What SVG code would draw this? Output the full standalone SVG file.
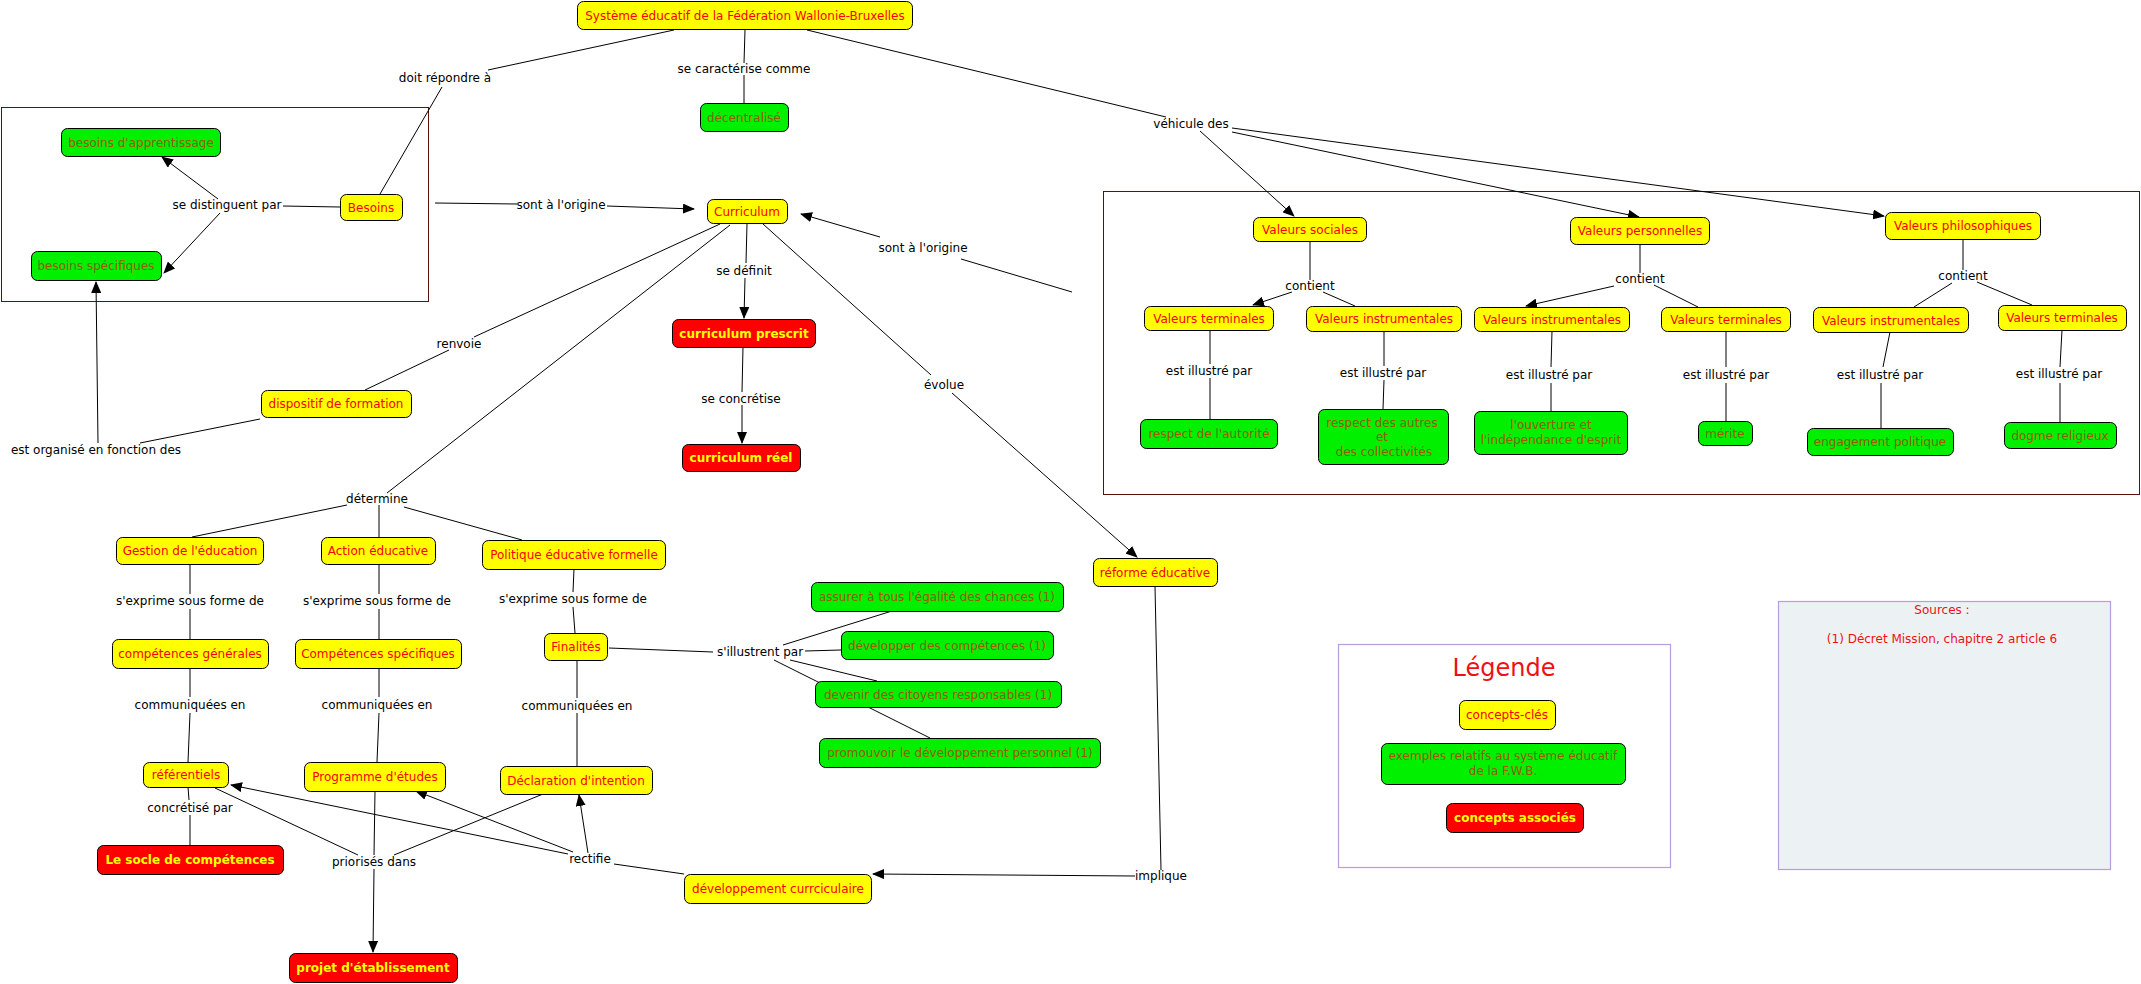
<svg xmlns="http://www.w3.org/2000/svg" width="2141" height="984" viewBox="0 0 2141 984">
<style>
text{font-family:"DejaVu Sans","Verdana",sans-serif;font-size:12px;text-anchor:middle}
.y rect{fill:#ffff00;stroke:#000;stroke-width:1}
.y text{fill:#ff0000}
.g rect{fill:#00f000;stroke:#000;stroke-width:1}
.g text{fill:#9a5a00}
.r rect{fill:#ff0000;stroke:#000;stroke-width:1}
.r text{fill:#ffff00;font-weight:bold}
.lbl{fill:#000}
#links line{stroke:#000;stroke-width:1;fill:none}
#links line.a{marker-end:url(#arr)}
.frame{fill:none;stroke:#5c1010;stroke-width:1}
.box{stroke:#b89be0;stroke-width:1.2}
</style>
<defs>
<marker id="arr" markerUnits="userSpaceOnUse" markerWidth="12" markerHeight="10" refX="11" refY="5" orient="auto">
<path d="M0,0 L12,5 L0,10 z" fill="#000"/>
</marker>
</defs>
<rect x="0" y="0" width="2141" height="984" fill="#fff"/>
<rect class="frame" x="1.5" y="107.5" width="427" height="194"/>
<rect class="frame" x="1103.5" y="191.5" width="1036" height="303"/>
<rect class="box" x="1338.5" y="644.5" width="332" height="223" fill="#fff"/>
<rect class="box" x="1778.5" y="601.5" width="332" height="268" fill="#ecf2f4"/>
<g id="links">
<line x1="674" y1="30" x2="488" y2="70"/><line x1="442" y1="87" x2="380" y2="194"/>
<line x1="745" y1="30" x2="744" y2="63"/><line x1="744" y1="75" x2="744" y2="103"/>
<line x1="807" y1="30" x2="1166" y2="117"/>
<line class="a" x1="1200" y1="131" x2="1294" y2="216"/>
<line class="a" x1="1232" y1="132" x2="1639" y2="217"/>
<line class="a" x1="1232" y1="128" x2="1884" y2="216"/>
<line x1="340" y1="207" x2="283" y2="206"/>
<line class="a" x1="218" y1="199" x2="162" y2="157"/>
<line class="a" x1="220" y1="213" x2="164" y2="273"/>
<line x1="435" y1="203" x2="517" y2="204"/><line class="a" x1="607" y1="206" x2="694" y2="209"/>
<line x1="1072" y1="292" x2="961" y2="259"/><line class="a" x1="880" y1="237" x2="801" y2="214"/>
<line x1="747" y1="224" x2="746" y2="263"/><line class="a" x1="745" y1="278" x2="744" y2="318"/>
<line x1="743" y1="347" x2="742" y2="392"/><line class="a" x1="742" y1="405" x2="742" y2="443"/>
<line x1="720" y1="224" x2="474" y2="337"/><line x1="449" y1="350" x2="365" y2="390"/>
<line x1="260" y1="419" x2="140" y2="443"/><line class="a" x1="98" y1="443" x2="96" y2="282"/>
<line x1="730" y1="225" x2="387" y2="493"/>
<line x1="763" y1="224" x2="931" y2="375"/><line class="a" x1="952" y1="393" x2="1137" y2="557"/>
<line x1="347" y1="505" x2="192" y2="537"/><line x1="379" y1="505" x2="379" y2="537"/><line x1="404" y1="507" x2="522" y2="540"/>
<line x1="190" y1="564" x2="190" y2="594"/><line x1="190" y1="609" x2="190" y2="639"/>
<line x1="379" y1="564" x2="379" y2="594"/><line x1="379" y1="609" x2="379" y2="639"/>
<line x1="574" y1="569" x2="573" y2="592"/><line x1="573" y1="607" x2="575" y2="633"/>
<line x1="190" y1="669" x2="190" y2="697"/><line x1="190" y1="713" x2="188" y2="762"/>
<line x1="379" y1="669" x2="379" y2="697"/><line x1="379" y1="713" x2="377" y2="762"/>
<line x1="577" y1="660" x2="577" y2="698"/><line x1="577" y1="713" x2="577" y2="766"/>
<line x1="609" y1="648" x2="713" y2="652"/>
<line x1="783" y1="645" x2="892" y2="611"/>
<line x1="805" y1="651" x2="841" y2="650"/>
<line x1="790" y1="660" x2="877" y2="681"/>
<line x1="774" y1="660" x2="930" y2="738"/>
<line x1="188" y1="787" x2="189" y2="800"/><line x1="190" y1="815" x2="190" y2="845"/>
<line x1="215" y1="788" x2="358" y2="855"/>
<line x1="375" y1="791" x2="374" y2="855"/>
<line x1="543" y1="794" x2="394" y2="855"/>
<line class="a" x1="374" y1="869" x2="373" y2="952"/>
<line x1="684" y1="874" x2="614" y2="864"/>
<line class="a" x1="568" y1="854" x2="231" y2="785"/>
<line class="a" x1="573" y1="852" x2="416" y2="791"/>
<line class="a" x1="588" y1="853" x2="579" y2="795"/>
<line x1="1155" y1="586" x2="1161" y2="870"/>
<line class="a" x1="1135" y1="876" x2="873" y2="874"/>
<line x1="1310" y1="241" x2="1310" y2="280"/><line class="a" x1="1292" y1="292" x2="1253" y2="305"/><line x1="1323" y1="292" x2="1355" y2="306"/>
<line x1="1640" y1="245" x2="1640" y2="273"/><line class="a" x1="1614" y1="286" x2="1526" y2="306"/><line x1="1654" y1="285" x2="1698" y2="307"/>
<line x1="1963" y1="239" x2="1963" y2="270"/><line x1="1952" y1="283" x2="1914" y2="307"/><line x1="1977" y1="282" x2="2032" y2="305"/>
<line x1="1210" y1="330" x2="1210" y2="364"/><line x1="1210" y1="378" x2="1210" y2="419"/>
<line x1="1384" y1="331" x2="1384" y2="366"/><line x1="1384" y1="380" x2="1383" y2="409"/>
<line x1="1552" y1="331" x2="1551" y2="367"/><line x1="1551" y1="383" x2="1551" y2="411"/>
<line x1="1726" y1="331" x2="1726" y2="367"/><line x1="1726" y1="383" x2="1726" y2="421"/>
<line x1="1890" y1="332" x2="1883" y2="367"/><line x1="1881" y1="383" x2="1881" y2="428"/>
<line x1="2062" y1="330" x2="2060" y2="367"/><line x1="2060" y1="383" x2="2060" y2="422"/>
</g>
<g id="labels">
<text class="lbl" x="445" y="82">doit répondre à</text>
<text class="lbl" x="744" y="73">se caractérise comme</text>
<text class="lbl" x="1191" y="128">véhicule des</text>
<text class="lbl" x="227" y="209">se distinguent par</text>
<text class="lbl" x="561" y="209">sont à l'origine</text>
<text class="lbl" x="923" y="252">sont à l'origine</text>
<text class="lbl" x="744" y="275">se définit</text>
<text class="lbl" x="741" y="403">se concrétise</text>
<text class="lbl" x="459" y="348">renvoie</text>
<text class="lbl" x="96" y="454">est organisé en fonction des</text>
<text class="lbl" x="944" y="389">évolue</text>
<text class="lbl" x="1310" y="290">contient</text>
<text class="lbl" x="1640" y="283">contient</text>
<text class="lbl" x="1963" y="280">contient</text>
<text class="lbl" x="1209" y="375">est illustré par</text>
<text class="lbl" x="1383" y="377">est illustré par</text>
<text class="lbl" x="1549" y="379">est illustré par</text>
<text class="lbl" x="1726" y="379">est illustré par</text>
<text class="lbl" x="1880" y="379">est illustré par</text>
<text class="lbl" x="2059" y="378">est illustré par</text>
<text class="lbl" x="377" y="503">détermine</text>
<text class="lbl" x="190" y="605">s'exprime sous forme de</text>
<text class="lbl" x="377" y="605">s'exprime sous forme de</text>
<text class="lbl" x="573" y="603">s'exprime sous forme de</text>
<text class="lbl" x="190" y="709">communiquées en</text>
<text class="lbl" x="377" y="709">communiquées en</text>
<text class="lbl" x="577" y="710">communiquées en</text>
<text class="lbl" x="760" y="656">s'illustrent par</text>
<text class="lbl" x="190" y="812">concrétisé par</text>
<text class="lbl" x="374" y="866">priorisés dans</text>
<text class="lbl" x="590" y="863">rectifie</text>
<text class="lbl" x="1161" y="880">implique</text>
</g>
<g id="n-title" class="y"><rect x="577.5" y="1.5" width="335" height="28" rx="6"/><text x="745" y="20">Système éducatif de la Fédération Wallonie-Bruxelles</text></g>
<g id="n-decentralise" class="g"><rect x="700.5" y="103.5" width="88" height="28" rx="6"/><text x="744" y="122">décentralisé</text></g>
<g id="n-besoins-app" class="g"><rect x="61.5" y="128.5" width="159" height="28" rx="6"/><text x="141" y="147">besoins d'apprentissage</text></g>
<g id="n-besoins-spec" class="g"><rect x="31.5" y="251.5" width="130" height="29" rx="6"/><text x="96" y="270">besoins spécifiques</text></g>
<g id="n-besoins" class="y"><rect x="340.5" y="194.5" width="62" height="26" rx="6"/><text x="371" y="212">Besoins</text></g>
<g id="n-curriculum" class="y"><rect x="707.5" y="199.5" width="80" height="24" rx="6"/><text x="747" y="216">Curriculum</text></g>
<g id="n-curr-prescrit" class="r"><rect x="672.5" y="319.5" width="143" height="28" rx="6"/><text x="744" y="338">curriculum prescrit</text></g>
<g id="n-curr-reel" class="r"><rect x="682.5" y="444.5" width="118" height="27" rx="6"/><text x="741" y="462">curriculum réel</text></g>
<g id="n-dispositif" class="y"><rect x="261.5" y="390.5" width="150" height="27" rx="6"/><text x="336" y="408">dispositif de formation</text></g>
<g id="n-val-soc" class="y"><rect x="1253.5" y="217.5" width="113" height="24" rx="6"/><text x="1310" y="234">Valeurs sociales</text></g>
<g id="n-val-pers" class="y"><rect x="1570.5" y="217.5" width="139" height="27" rx="6"/><text x="1640" y="235">Valeurs personnelles</text></g>
<g id="n-val-phil" class="y"><rect x="1885.5" y="212.5" width="155" height="27" rx="6"/><text x="1963" y="230">Valeurs philosophiques</text></g>
<g id="n-vt1" class="y"><rect x="1144.5" y="306.5" width="129" height="24" rx="6"/><text x="1209" y="323">Valeurs terminales</text></g>
<g id="n-vi1" class="y"><rect x="1306.5" y="306.5" width="155" height="25" rx="6"/><text x="1384" y="323">Valeurs instrumentales</text></g>
<g id="n-vi2" class="y"><rect x="1474.5" y="307.5" width="155" height="24" rx="6"/><text x="1552" y="324">Valeurs instrumentales</text></g>
<g id="n-vt2" class="y"><rect x="1661.5" y="307.5" width="129" height="24" rx="6"/><text x="1726" y="324">Valeurs terminales</text></g>
<g id="n-vi3" class="y"><rect x="1813.5" y="307.5" width="155" height="25" rx="6"/><text x="1891" y="325">Valeurs instrumentales</text></g>
<g id="n-vt3" class="y"><rect x="1998.5" y="305.5" width="128" height="25" rx="6"/><text x="2062" y="322">Valeurs terminales</text></g>
<g id="n-respect-autorite" class="g"><rect x="1140.5" y="419.5" width="137" height="29" rx="6"/><text x="1209" y="438">respect de l'autorité</text></g>
<g id="n-respect-autres" class="g"><rect x="1318.5" y="409.5" width="130" height="55" rx="6"/><text x="1382" y="427">respect des autres</text><text x="1382" y="441">et</text><text x="1384" y="456">des collectivités</text></g>
<g id="n-ouverture" class="g"><rect x="1474.5" y="411.5" width="153" height="43" rx="6"/><text x="1551" y="429">l'ouverture et</text><text x="1551" y="444">l'indépendance d'esprit</text></g>
<g id="n-merite" class="g"><rect x="1698.5" y="421.5" width="54" height="24" rx="6"/><text x="1725" y="438">mérite</text></g>
<g id="n-engagement" class="g"><rect x="1807.5" y="428.5" width="146" height="27" rx="6"/><text x="1880" y="446">engagement politique</text></g>
<g id="n-dogme" class="g"><rect x="2004.5" y="422.5" width="112" height="26" rx="6"/><text x="2060" y="440">dogme religieux</text></g>
<g id="n-gestion" class="y"><rect x="116.5" y="537.5" width="147" height="27" rx="6"/><text x="190" y="555">Gestion de l'éducation</text></g>
<g id="n-action" class="y"><rect x="321.5" y="537.5" width="114" height="27" rx="6"/><text x="378" y="555">Action éducative</text></g>
<g id="n-politique" class="y"><rect x="482.5" y="540.5" width="183" height="29" rx="6"/><text x="574" y="559">Politique éducative formelle</text></g>
<g id="n-comp-gen" class="y"><rect x="112.5" y="639.5" width="156" height="29" rx="6"/><text x="190" y="658">compétences générales</text></g>
<g id="n-comp-spec" class="y"><rect x="295.5" y="639.5" width="166" height="29" rx="6"/><text x="378" y="658">Compétences spécifiques</text></g>
<g id="n-finalites" class="y"><rect x="544.5" y="633.5" width="63" height="27" rx="6"/><text x="576" y="651">Finalités</text></g>
<g id="n-referentiels" class="y"><rect x="143.5" y="762.5" width="85" height="25" rx="6"/><text x="186" y="779">référentiels</text></g>
<g id="n-programme" class="y"><rect x="304.5" y="762.5" width="141" height="29" rx="6"/><text x="375" y="781">Programme d'études</text></g>
<g id="n-declaration" class="y"><rect x="500.5" y="766.5" width="152" height="28" rx="6"/><text x="576" y="785">Déclaration d'intention</text></g>
<g id="n-assurer" class="g"><rect x="811.5" y="582.5" width="252" height="29" rx="6"/><text x="937" y="601">assurer à tous l'égalité des chances (1)</text></g>
<g id="n-developper" class="g"><rect x="841.5" y="631.5" width="212" height="28" rx="6"/><text x="947" y="650">développer des compétences (1)</text></g>
<g id="n-devenir" class="g"><rect x="815.5" y="681.5" width="246" height="26" rx="6"/><text x="938" y="699">devenir des citoyens responsables (1)</text></g>
<g id="n-promouvoir" class="g"><rect x="819.5" y="738.5" width="281" height="29" rx="6"/><text x="960" y="757">promouvoir le développement personnel (1)</text></g>
<g id="n-socle" class="r"><rect x="97.5" y="845.5" width="186" height="29" rx="6"/><text x="190" y="864">Le socle de compétences</text></g>
<g id="n-projet" class="r"><rect x="289.5" y="953.5" width="168" height="29" rx="6"/><text x="373" y="972">projet d'établissement</text></g>
<g id="n-developpement" class="y"><rect x="684.5" y="874.5" width="187" height="29" rx="6"/><text x="778" y="893">développement currciculaire</text></g>
<g id="n-reforme" class="y"><rect x="1093.5" y="558.5" width="124" height="28" rx="6"/><text x="1155" y="577">réforme éducative</text></g>
<g id="legend">
<text x="1504" y="676" style="font-size:24px;fill:#ee1111">Légende</text>
<g id="l-cles" class="y"><rect x="1459.5" y="700.5" width="96" height="29" rx="6"/><text x="1507" y="719">concepts-clés</text></g>
<g id="l-exemples" class="g"><rect x="1381.5" y="743.5" width="244" height="41" rx="6"/><text x="1503" y="760">exemples relatifs au système éducatif</text><text x="1503" y="775">de la F.W.B.</text></g>
<g id="l-associes" class="r"><rect x="1446.5" y="803.5" width="137" height="29" rx="6"/><text x="1515" y="822">concepts associés</text></g>
</g>
<g id="sources">
<text x="1942" y="614" style="fill:#ee1111">Sources :</text>
<text x="1942" y="643" style="fill:#ee1111">(1) Décret Mission, chapitre 2 article 6</text>
</g>
</svg>
